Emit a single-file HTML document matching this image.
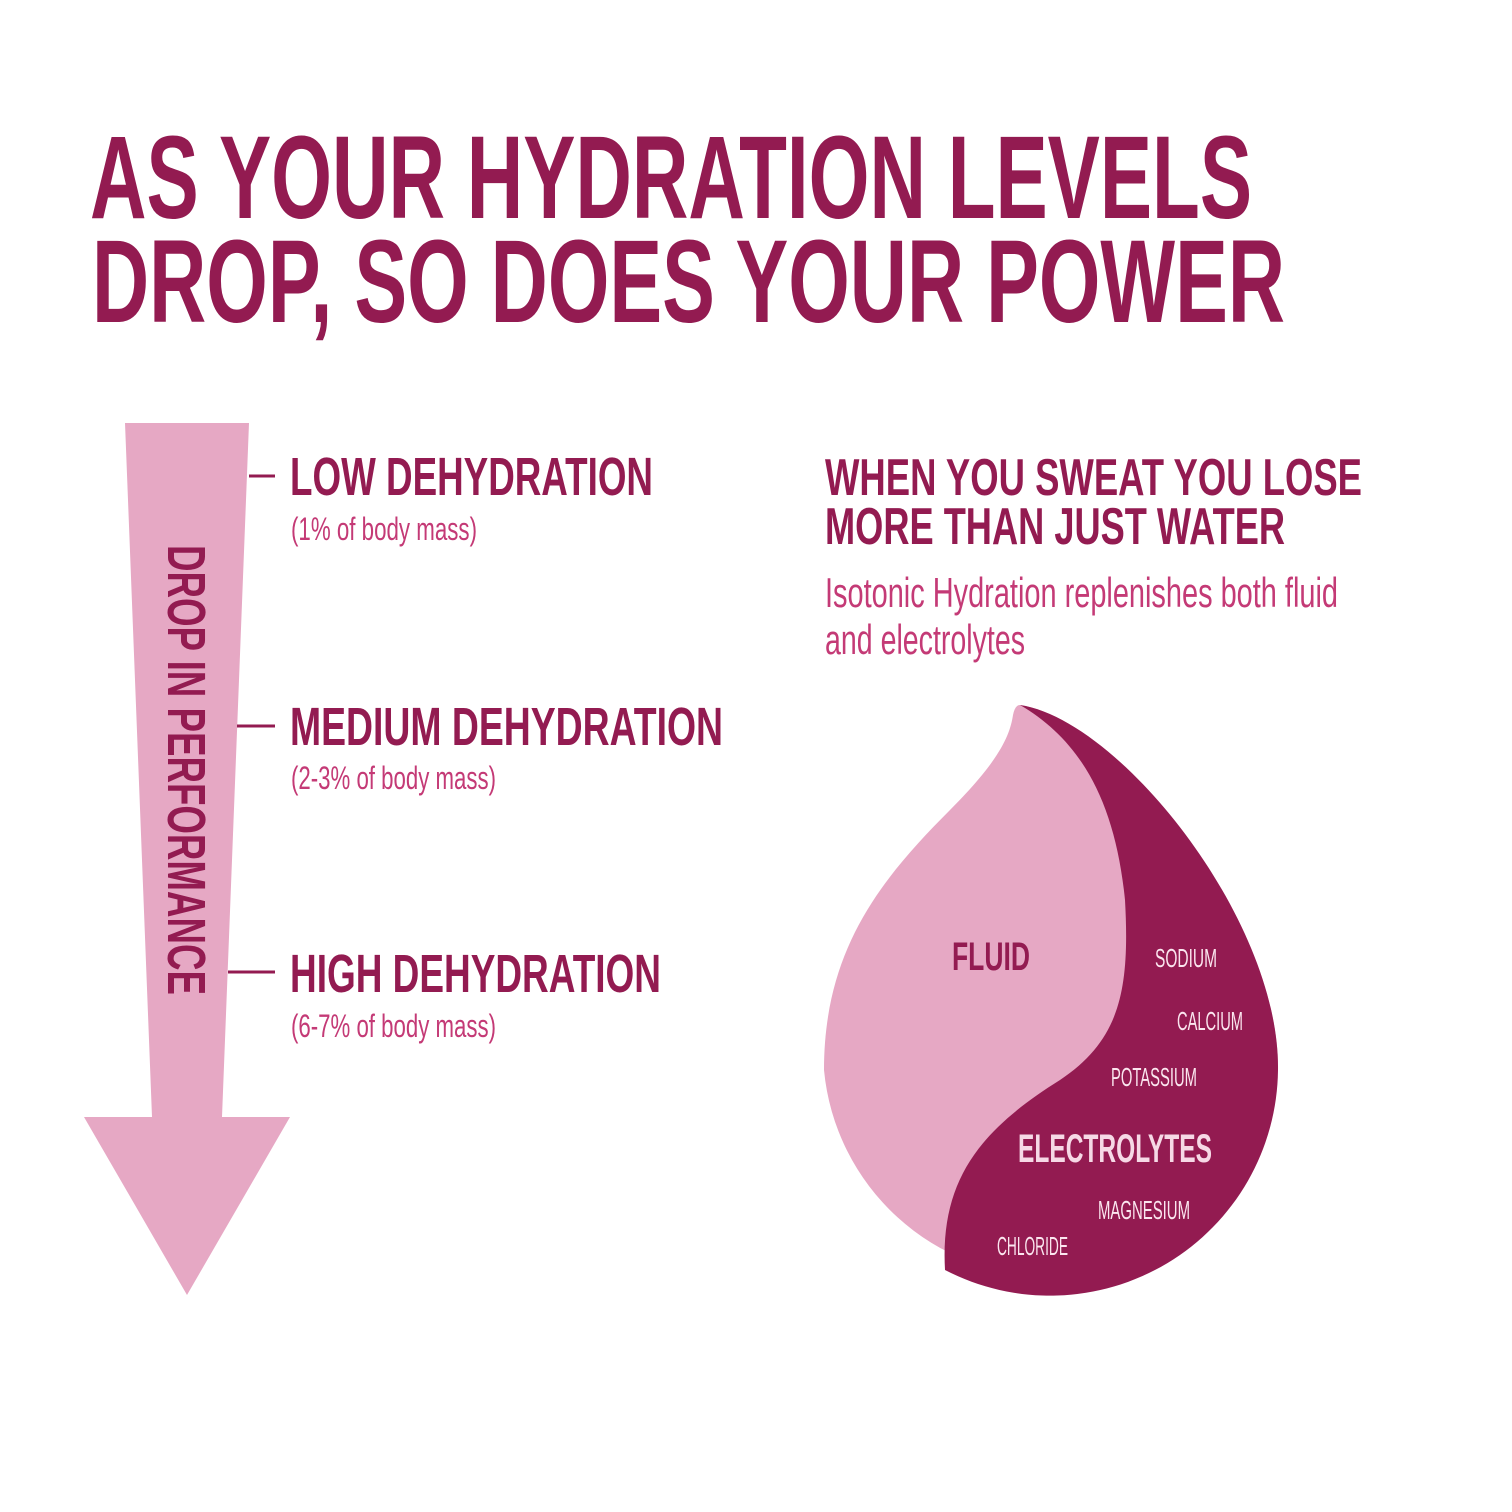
<!DOCTYPE html>
<html><head><meta charset="utf-8"><style>html,body{margin:0;padding:0;background:#fff}svg{display:block}</style></head>
<body>
<svg width="1512" height="1512" viewBox="0 0 1512 1512" xmlns="http://www.w3.org/2000/svg" font-family="'Liberation Sans', sans-serif">
<rect width="1512" height="1512" fill="#fff"/>
<g fill="#931b51" font-weight="bold">
<text x="90" y="218" font-size="118" textLength="1162" lengthAdjust="spacingAndGlyphs">AS YOUR HYDRATION LEVELS</text>
<text x="92" y="322" font-size="118" textLength="1193" lengthAdjust="spacingAndGlyphs">DROP, SO DOES YOUR POWER</text>
</g>
<!-- arrow -->
<path d="M125,423 L249,423 L222,1117 L290,1117 L187,1295 L84,1117 L152,1117 Z" fill="#e6a8c4"/>
<text transform="translate(168,545) rotate(90)" font-size="54" font-weight="bold" fill="#931b51" textLength="450" lengthAdjust="spacingAndGlyphs">DROP IN PERFORMANCE</text>
<g stroke="#931b51" stroke-width="3">
<line x1="249" y1="476" x2="275" y2="476"/>
<line x1="237" y1="726" x2="275" y2="726"/>
<line x1="228" y1="972" x2="275" y2="972"/>
</g>
<g font-weight="bold" fill="#931b51" font-size="54">
<text x="290" y="495" textLength="363" lengthAdjust="spacingAndGlyphs">LOW DEHYDRATION</text>
<text x="290" y="745" textLength="433" lengthAdjust="spacingAndGlyphs">MEDIUM DEHYDRATION</text>
<text x="290" y="992" textLength="371" lengthAdjust="spacingAndGlyphs">HIGH DEHYDRATION</text>
</g>
<g fill="#c43a76" font-size="32">
<text x="291" y="540" textLength="186" lengthAdjust="spacingAndGlyphs">(1% of body mass)</text>
<text x="291" y="789" textLength="205" lengthAdjust="spacingAndGlyphs">(2-3% of body mass)</text>
<text x="291" y="1037" textLength="205" lengthAdjust="spacingAndGlyphs">(6-7% of body mass)</text>
</g>
<g font-weight="bold" fill="#931b51" font-size="52">
<text x="825" y="495" textLength="537" lengthAdjust="spacingAndGlyphs">WHEN YOU SWEAT YOU LOSE</text>
<text x="825" y="544" textLength="460" lengthAdjust="spacingAndGlyphs">MORE THAN JUST WATER</text>
</g>
<g fill="#c43a76" font-size="42">
<text x="825" y="607" textLength="513" lengthAdjust="spacingAndGlyphs">Isotonic Hydration replenishes both fluid</text>
<text x="825" y="654" textLength="200" lengthAdjust="spacingAndGlyphs">and electrolytes</text>
</g>
<!-- drop -->
<path d="M1020,705 C1120,720 1280,920 1278,1070 A228,228 0 0 1 824,1070 C824,950 880,880 950,810 C1000,760 1010,735 1013,715 Q1015,705 1020,705 Z" fill="#e6a8c4"/>
<path d="M1020,705 C1120,720 1280,920 1278,1070 A228,228 0 0 1 945,1270 C940,1180 980,1130 1060,1080 C1120,1040 1130,990 1125,900 C1115,800 1080,740 1020,705 Z" fill="#931b51"/>
<text x="952" y="970" font-size="40" font-weight="bold" fill="#931b51" textLength="78" lengthAdjust="spacingAndGlyphs">FLUID</text>
<text x="1018" y="1162" font-size="40" font-weight="bold" fill="#f6d9e6" textLength="194" lengthAdjust="spacingAndGlyphs">ELECTROLYTES</text>
<g fill="#fbe6ef" font-size="26">
<text x="1155" y="967" textLength="62" lengthAdjust="spacingAndGlyphs">SODIUM</text>
<text x="1177" y="1030" textLength="66" lengthAdjust="spacingAndGlyphs">CALCIUM</text>
<text x="1111" y="1086" textLength="86" lengthAdjust="spacingAndGlyphs">POTASSIUM</text>
<text x="1098" y="1219" textLength="92" lengthAdjust="spacingAndGlyphs">MAGNESIUM</text>
<text x="997" y="1255" textLength="71" lengthAdjust="spacingAndGlyphs">CHLORIDE</text>
</g>
</svg>
</body></html>
